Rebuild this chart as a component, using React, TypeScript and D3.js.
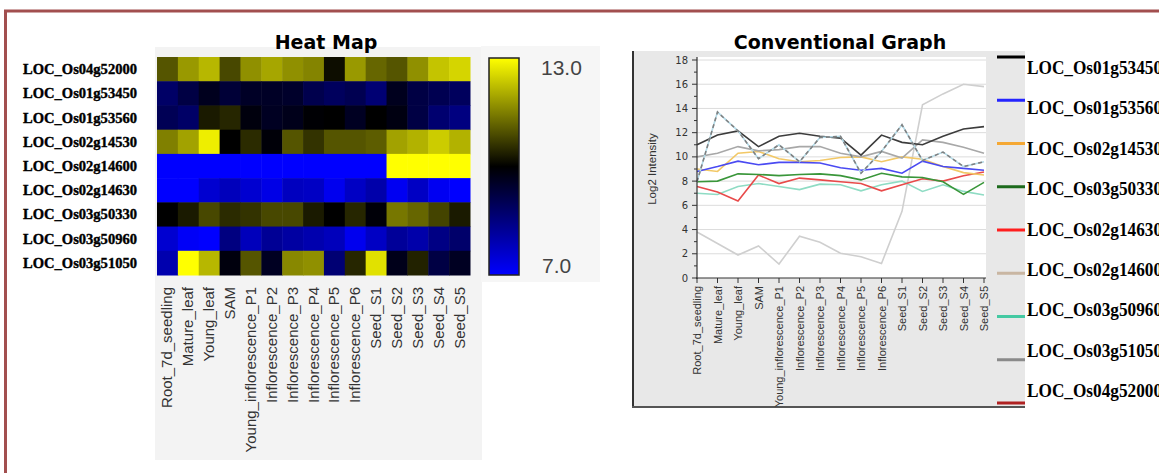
import React from 'react';
import * as d3 from 'd3';

const categories = [
  'Root_7d_seedling', 'Mature_leaf', 'Young_leaf', 'SAM', 'Young_inflorescence_P1',
  'Inflorescence_P2', 'Inflorescence_P3', 'Inflorescence_P4', 'Inflorescence_P5',
  'Inflorescence_P6', 'Seed_S1', 'Seed_S2', 'Seed_S3', 'Seed_S4', 'Seed_S5',
];

const heatGenes = [
  'LOC_Os04g52000', 'LOC_Os01g53450', 'LOC_Os01g53560', 'LOC_Os02g14530', 'LOC_Os02g14600',
  'LOC_Os02g14630', 'LOC_Os03g50330', 'LOC_Os03g50960', 'LOC_Os03g51050',
];

const heatValues = [
  [11.0, 11.8, 12.15, 10.85, 11.7, 11.95, 11.7, 11.55, 10.15, 11.8, 11.2, 11.0, 11.7, 12.3, 12.5],
  [8.8, 9.2, 9.65, 9.35, 9.55, 9.55, 9.5, 9.1, 8.9, 9.05, 8.65, 9.65, 9.2, 9.05, 8.9],
  [9.0, 8.8, 10.3, 10.45, 9.85, 9.6, 9.7, 9.95, 10.0, 9.6, 10.0, 9.8, 9.2, 8.7, 8.5],
  [11.5, 11.9, 12.8, 10.0, 10.5, 9.9, 11.0, 10.6, 11.0, 11.0, 11.1, 11.9, 12.1, 12.4, 12.1],
  [3.8, 2.85, 1.9, 2.65, 1.15, 3.45, 2.95, 2.05, 1.75, 1.2, 5.5, 14.3, 15.2, 16.0, 15.8],
  [7.0, 6.9, 7.55, 7.8, 7.55, 7.3, 7.75, 7.7, 7.2, 7.7, 8.0, 7.15, 7.7, 7.15, 6.85],
  [10.0, 10.3, 10.85, 10.5, 10.6, 10.85, 10.85, 10.3, 10.0, 10.45, 9.9, 11.4, 11.2, 10.8, 10.3],
  [7.55, 7.1, 6.35, 8.5, 7.8, 8.25, 8.1, 7.95, 7.8, 7.2, 7.7, 8.2, 8.0, 8.45, 8.75],
  [7.95, 13.7, 12.15, 9.85, 11.0, 9.6, 11.6, 11.7, 8.65, 10.45, 12.65, 9.7, 10.4, 9.2, 9.6],
];

const colorDomain = [7, 10, 13];
const colorRange = ['#0000ff', '#000000', '#ffff00'];
const colorLabels = ['13.0', '7.0'];

// line chart series (as drawn)
const seriesBlack = [11.0, 11.8, 12.15, 10.85, 11.7, 11.95, 11.7, 11.55, 10.15, 11.8, 11.2, 11.0, 11.7, 12.3, 12.5];
const seriesBlue = [8.8, 9.2, 9.65, 9.35, 9.55, 9.55, 9.5, 9.1, 8.9, 9.05, 8.65, 9.65, 9.2, 9.05, 8.9];
const seriesOrange = [9.0, 8.8, 10.3, 10.45, 9.85, 9.6, 9.7, 9.95, 10.0, 9.6, 10.0, 9.8, 9.2, 8.7, 8.5];
const seriesGreen = [7.95, 8.0, 8.6, 8.55, 8.45, 8.55, 8.6, 8.45, 8.1, 8.65, 8.35, 8.3, 7.95, 6.9, 7.9];
const seriesRed = [7.55, 7.1, 6.35, 8.5, 7.8, 8.25, 8.1, 7.95, 7.8, 7.2, 7.7, 8.2, 8.0, 8.45, 8.75];
const seriesBeige = [3.8, 2.85, 1.9, 2.65, 1.15, 3.45, 2.95, 2.05, 1.75, 1.2, 5.5, 14.3, 15.2, 16.0, 15.8];
const seriesTeal = [7.0, 6.9, 7.55, 7.8, 7.55, 7.3, 7.75, 7.7, 7.2, 7.7, 8.0, 7.15, 7.7, 7.15, 6.85];
const seriesGray = [10.0, 10.3, 10.85, 10.5, 10.6, 10.85, 10.85, 10.3, 10.0, 10.45, 9.9, 11.4, 11.2, 10.8, 10.3];
const seriesDashed = [7.95, 13.7, 12.15, 9.85, 11.0, 9.6, 11.6, 11.7, 8.65, 10.45, 12.65, 9.7, 10.4, 9.2, 9.6];

const lines = [
  { values: seriesBeige, color: '#cfcfcf', dash: null },
  { values: seriesTeal, color: '#8fdcc4', dash: null },
  { values: seriesRed, color: '#e84a4a', dash: null },
  { values: seriesGreen, color: '#3a963a', dash: null },
  { values: seriesOrange, color: '#f2c866', dash: null },
  { values: seriesBlue, color: '#4a4af2', dash: null },
  { values: seriesGray, color: '#a8a8a8', dash: null },
  { values: seriesBlack, color: '#3c3c3c', dash: null },
  { values: seriesDashed, color: '#b4dbe8', dash: null },
  { values: seriesDashed, color: '#808080', dash: '4,3' },
];

const legendNames = [
  'LOC_Os01g53450', 'LOC_Os01g53560', 'LOC_Os02g14530', 'LOC_Os03g50330', 'LOC_Os02g14630',
  'LOC_Os02g14600', 'LOC_Os03g50960', 'LOC_Os03g51050', 'LOC_Os04g52000',
];
const legendColors = ['#000000', '#2424ff', '#f5a834', '#1c6a1c', '#ff1e1e', '#c9b6a2', '#44c9a2', '#8a8a8a', '#b02222'];

const yTicks = d3.range(0, 19, 1);

export default function App() {
  // heat map geometry
  const hx = d3.scaleBand<number>().domain(d3.range(categories.length)).range([157, 470]);
  const hy = d3.scaleBand<string>().domain(heatGenes).range([57, 275]);
  const color = d3.scaleLinear<string>().domain(colorDomain).range(colorRange).clamp(true);
  const cbY = d3.scaleLinear().domain([7, 13]).range([275, 58]);

  // line chart geometry
  const x = d3.scalePoint<string>().domain(categories).range([697, 984]);
  const y = d3.scaleLinear().domain([0, 18]).range([278, 60]);
  const line = d3.line<number>().x((_, i) => x(categories[i]) as number).y((d) => y(d));

  const legLineY = d3.scalePoint<string>().domain(legendNames).range([57, 403]);
  const legTextY = d3.scalePoint<string>().domain(legendNames).range([74, 397]);

  const gradStops = d3.range(0, 1.0001, 0.1).map((t) => ({ t, c: color(7 + 6 * t) }));

  return (
    <svg width={1159} height={473} style={{ position: 'absolute', left: 0, top: 0, background: '#ffffff' }}>
      <defs>
        <linearGradient id="cbar" x1="0" y1="1" x2="0" y2="0">
          {gradStops.map((s) => (
            <stop key={s.t} offset={s.t} stopColor={s.c} />
          ))}
        </linearGradient>
      </defs>
      <rect x={0} y={0} width={1159} height={473} fill="#ffffff" />
      <rect x={5.5} y={11} width={1300} height={600} fill="none" stroke="#a24f4f" strokeWidth={3} />

      {/* Heat map */}
      <rect x={155} y={47} width={327} height={413} fill="#f3f3f3" />
      <rect x={481} y={46} width={119} height={236} fill="#f6f6f6" />
      <text x={326} y={49} textAnchor="middle" fontFamily="DejaVu Sans" fontWeight="bold" fontSize={19} fill="#000">
        Heat Map
      </text>
      {heatValues.map((row, r) =>
        row.map((v, c) => (
          <rect
            key={`${r}-${c}`}
            x={hx(c)}
            y={hy(heatGenes[r])}
            width={hx.bandwidth() + 0.5}
            height={hy.bandwidth() + 0.5}
            fill={color(v)}
          />
        ))
      )}
      {heatGenes.map((g) => (
        <text
          key={g}
          x={23}
          y={(hy(g) as number) + hy.bandwidth() / 2 + 5}
          fontFamily="Liberation Serif"
          fontWeight="bold"
          fontSize={15}
          textLength={114}
          lengthAdjust="spacingAndGlyphs"
          fill="#000"
          stroke="#000"
          strokeWidth={0.4}
        >
          {g}
        </text>
      ))}
      {categories.map((c, i) => {
        const cx = (hx(i) as number) + hx.bandwidth() / 2;
        return (
          <text
            key={c}
            transform={`translate(${cx + 5},287) rotate(-90)`}
            textAnchor="end"
            fontFamily="Liberation Sans"
            fontSize={15}
            fill="#333"
          >
            {c}
          </text>
        );
      })}
      <rect x={489} y={58} width={30} height={217} fill="url(#cbar)" stroke="#222" strokeWidth={1.5} />
      <text x={541} y={cbY(13) + 17} fontFamily="Liberation Sans" fontSize={21} fill="#444">
        {colorLabels[0]}
      </text>
      <text x={542} y={cbY(7) - 2} fontFamily="Liberation Sans" fontSize={21} fill="#444">
        {colorLabels[1]}
      </text>

      {/* Conventional graph */}
      <text x={840} y={49} textAnchor="middle" fontFamily="DejaVu Sans" fontWeight="bold" fontSize={19} fill="#000">
        Conventional Graph
      </text>
      <rect x={633} y={51} width={392} height={356} fill="#e8e8e8" />
      <line x1={633} y1={51} x2={633} y2={408} stroke="#333" strokeWidth={2} />
      <line x1={632} y1={407} x2={1025} y2={407} stroke="#555" strokeWidth={2} />
      <rect x={697} y={57} width={289} height={221} fill="#ffffff" />
      {yTicks.filter((t) => t % 2 === 0 && t > 0).map((t) => (
        <line key={`g${t}`} x1={697} x2={986} y1={y(t)} y2={y(t)} stroke="#dcdcdc" strokeWidth={1} />
      ))}
      {lines.map((l, i) => (
        <path
          key={i}
          d={line(l.values) as string}
          fill="none"
          stroke={l.color}
          strokeWidth={1.6}
          strokeDasharray={l.dash ?? undefined}
        />
      ))}
      <line x1={697} x2={697} y1={57} y2={279} stroke="#333" strokeWidth={1.2} />
      <line x1={696} x2={986} y1={278} y2={278} stroke="#333" strokeWidth={1.2} />
      {yTicks.map((t) => (
        <line
          key={`yt${t}`}
          x1={t % 2 === 0 ? 692 : 694}
          x2={697}
          y1={y(t)}
          y2={y(t)}
          stroke="#333"
          strokeWidth={1}
        />
      ))}
      {yTicks.filter((t) => t % 2 === 0).map((t) => (
        <text key={`yl${t}`} x={688} y={y(t) + 3.5} textAnchor="end" fontFamily="DejaVu Sans" fontSize={10} fill="#333">
          {t}
        </text>
      ))}
      <text
        transform={`translate(656,${(y(0) + y(18)) / 2}) rotate(-90)`}
        textAnchor="middle"
        fontFamily="Liberation Sans"
        fontSize={11.5}
        fill="#333"
      >
        Log2 Intensity
      </text>
      {categories.map((c) => (
        <g key={`xt${c}`}>
          <line x1={x(c)} x2={x(c)} y1={278} y2={283} stroke="#333" strokeWidth={1} />
          <text
            transform={`translate(${(x(c) as number) + 4},286) rotate(-90)`}
            textAnchor="end"
            fontFamily="Liberation Sans"
            fontSize={11}
            fill="#333"
          >
            {c}
          </text>
        </g>
      ))}

      {/* Legend */}
      {legendNames.map((n, i) => (
        <g key={`lg${n}`}>
          <line x1={997} x2={1025} y1={legLineY(n)} y2={legLineY(n)} stroke={legendColors[i]} strokeWidth={3} />
          <text
            x={1027}
            y={legTextY(n)}
            fontFamily="Liberation Serif"
            fontWeight="bold"
            fontSize={18}
            textLength={135}
            lengthAdjust="spacingAndGlyphs"
            fill="#000"
          >
            {n}
          </text>
        </g>
      ))}
    </svg>
  );
}
